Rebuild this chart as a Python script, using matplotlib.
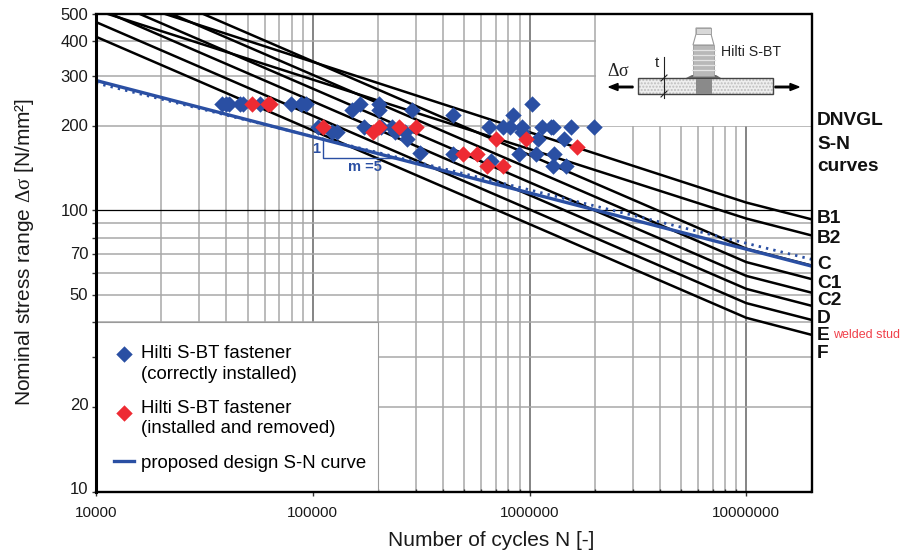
import matplotlib
matplotlib.use("Agg")
import matplotlib.pyplot as plt
from matplotlib.patches import Rectangle, FancyArrow, Polygon
from matplotlib.transforms import ScaledTranslation

plt.rcParams['font.family'] = ['Liberation Sans', 'DejaVu Sans']
plt.rcParams['mathtext.fontset'] = 'custom'
plt.rcParams['mathtext.rm'] = 'Liberation Serif'
plt.rcParams['mathtext.it'] = 'Liberation Serif:italic'

BLUE = '#2a4fa3'
RED = '#ee2b33'

curve_N = [1e4, 1e7, 2e7]
curve_B1 = [601, 106.7, 93]
curve_B2 = [516, 93.6, 81.5]
curve_C = [731, 73.1, 63.7]
curve_C1 = [654, 65.5, 57]
curve_C2 = [584, 58.5, 51]
curve_D = [527, 52.6, 45.8]
curve_E = [468, 46.8, 40.8]
curve_F = [415, 41.5, 36.1]
dnv_curves = [curve_B1, curve_B2, curve_C, curve_C1, curve_C2, curve_D, curve_E, curve_F]
curve_labels = ['B1', 'B2', 'C', 'C1', 'C2', 'D', 'E', 'F']
label_base_px = [223, 243, 269, 288, 305, 323, 340, 358]

design_N = [1e4, 2e7]
design_S = [290, 63.4]
dotted_S = [284, 67]

blue_N = [38080, 39720, 41020, 46080, 47560, 57000, 79200, 88100, 92800,
          151300, 164700, 201400, 201400, 286000,
          105400, 122300, 129000, 171800, 205800, 231200, 238700, 265400, 271000, 311200,
          446000, 1032000, 835000, 647000, 751000, 808900, 918900, 1148000, 1262000,
          1289000, 1561000, 1993000, 918900, 1100000, 1449000, 899000, 1077000,
          1303000, 442000, 661000, 1289000, 1480000]
blue_S = [239, 239, 239, 239, 239, 239, 239, 239, 239,
          228, 239, 239, 228, 228,
          198, 190, 190, 198, 198, 198, 190, 190, 180, 160,
          219, 239, 219, 198, 198, 198, 198, 198, 198,
          198, 198, 198, 190, 180, 180, 159, 159,
          159, 159, 150, 144, 144]
red_N = [52300, 62000, 63400, 111200, 189000, 201400, 249000, 298400,
         697000, 968000, 1664000, 491000, 575000, 634000, 751000]
red_S = [239, 239, 239, 198, 190, 198, 198, 198,
         180, 180, 168, 159, 159, 144, 144]

x_ticks = [1e4, 1e5, 1e6, 1e7]
x_tick_labels = ['10000', '100000', '1000000', '10000000']
y_ticks = [10, 20, 50, 70, 100, 200, 300, 400, 500]
y_label_shift_px = [4, 2.5, 1, 1, 0.5, 0.5, 0, 0, 0]
y_grid_extra = [30, 40, 60, 80, 90]

W, H = 917, 555
fig = plt.figure(figsize=(W / 100, H / 100), dpi=100)
L, R, T, B = 96, 811.5, 14, 491.5
ax = fig.add_axes([L / W, 1 - B / H, (R - L) / W, (B - T) / H])
ax.set_xscale('log')
ax.set_yscale('log')
ax.set_xlim(1e4, 2e7)
ax.set_ylim(10, 500)

# grid
for dec in (1e4, 1e5, 1e6, 1e7):
    for k in range(1, 10):
        v = dec * k
        if v >= 2e7 or v <= 1e4:
            continue
        major = k == 1
        ax.axvline(v, color='#707070' if major else '#a8a8a8', lw=1.2 if major else 1.1, zorder=1)
for v in y_ticks + y_grid_extra:
    if v in (10, 500):
        continue
    ax.axhline(v, color='black' if v == 100 else '#a8a8a8', lw=0.9 if v == 100 else 1.1, zorder=1)

# white areas (legend, picture)
ax.add_patch(Rectangle((L / W, 1 - B / H), 282 / W, 169.5 / H, transform=fig.transFigure,
                       fc='white', ec='#9a9a9a', lw=0.8, zorder=2))
ax.add_patch(Rectangle((596 / W, 1 - 125.5 / H), 216 / W, 111.5 / H, transform=fig.transFigure,
                       fc='white', ec='none', zorder=2))

for s in dnv_curves:
    ax.plot(curve_N, s, color='black', lw=1.8, zorder=3, solid_joinstyle='round')
ax.plot(design_N, dotted_S, color=BLUE, lw=2.0, ls=(0, (0.85, 1.85)), zorder=4)
l_design, = ax.plot(design_N, design_S, color=BLUE, lw=2.4, zorder=4)
p_blue = ax.scatter(blue_N, blue_S, marker='D', s=70, color=BLUE, lw=0, zorder=5)
p_red = ax.scatter(red_N, red_S, marker='D', s=70, color=RED, lw=0, zorder=6)

ax.set_xticks(x_ticks)
ax.set_xticklabels(x_tick_labels)
ax.set_yticks(y_ticks)
ax.set_yticklabels([str(v) for v in y_ticks])
ax.minorticks_on()
ax.yaxis.set_minor_formatter(plt.NullFormatter())
ax.xaxis.set_minor_formatter(plt.NullFormatter())
ax.tick_params(axis='y', which='both', length=3, width=1, color='#333333', direction='out')
ax.tick_params(axis='x', which='major', length=3, width=1, color='#333333', direction='out')
ax.tick_params(axis='x', which='minor', length=2.5, width=1, color='#333333', direction='in')
ax.tick_params(axis='x', which='major', labelsize=11, pad=7.5, labelcolor='#1a1a1a')
ax.tick_params(axis='y', which='major', labelsize=12, pad=2.5, labelcolor='#1a1a1a')
for lab, dy in zip(ax.get_yticklabels(), y_label_shift_px):
    lab.set_transform(lab.get_transform() + ScaledTranslation(0, dy / 100, fig.dpi_scale_trans))
for name, s in ax.spines.items():
    s.set_linewidth(2.2 if name == 'left' else 1.7)
    s.set_color('black')
    s.set_zorder(7)

leg = ax.legend([p_blue, p_red, l_design],
                ['Hilti S-BT fastener\n(correctly installed)',
                 'Hilti S-BT fastener\n(installed and removed)',
                 'proposed design S-N curve'],
                loc='upper left', bbox_to_anchor=((114 - L) / (R - L), 1 - (345 - T) / (B - T)),
                frameon=False, fontsize=13.4, labelspacing=0.92, handlelength=1.08,
                handletextpad=0.38, borderaxespad=0, borderpad=0, scatterpoints=1)
leg.set_zorder(8)
for t in leg.get_texts():
    t.set_linespacing(1.28)
# markers sit level with the first text line of their entry, as in the reference
for handle, up_pt in zip(leg.legend_handles[:2], [8, 5]):
    off = handle.get_offsets()
    off[:, 1] += up_pt
    handle.set_offsets(off)

# overlay in pixel coordinates for annotations
ov = fig.add_axes([0, 0, 1, 1], facecolor='none')
ov.set_xlim(0, W)
ov.set_ylim(H, 0)
ov.axis('off')

ov.text(491, 540, 'Number of cycles N [-]', fontsize=15, color='#1a1a1a', ha='center', va='center')
ov.text(25, 252, r'Nominal stress range $\mathrm{\Delta\sigma}$ [N/mm²]', fontsize=15, color='#1a1a1a',
        rotation=90, ha='center', va='center')

for lab, y in zip(curve_labels, label_base_px):
    ov.text(817, y, lab, fontsize=13.8, fontweight='bold', va='baseline', ha='left', color='#111111')
for txt, y in zip(['DNVGL', 'S-N', 'curves'], [125, 149, 171]):
    ov.text(817, y, txt, fontsize=13.8, fontweight='bold', va='baseline', ha='left', color='#111111')
ov.text(833, 338, 'welded stud', fontsize=9, color='#f0404a', va='baseline', ha='left')

# slope triangle
ov.plot([323, 323, 394], [140, 158, 158], color=BLUE, lw=1.0)
ov.text(316, 149, '1', fontsize=10.5, fontweight='bold', color=BLUE, ha='center', va='center')
ov.text(365, 167, 'm =5', fontsize=10.5, fontweight='bold', color=BLUE, ha='center', va='center')

# fastener picture
ov.add_patch(Rectangle((638, 78), 135, 16, fc='#eeeeee', ec='#bdbdbd', lw=0, hatch='.....'))
ov.add_patch(Rectangle((638, 78), 135, 16, fc='none', ec='#444444', lw=1.0))
ov.add_patch(Rectangle((696, 78.5), 16, 15, fc='#8a8a8a', ec='none'))
ov.add_patch(Polygon([(686, 78), (692, 75), (716, 75), (721, 78)], fc='#666666', ec='none'))
ov.add_patch(Rectangle((693, 45), 21, 31, fc='#b8b8b8', ec='#9a9a9a', lw=0.6))
for ythread in [50, 55, 60, 65, 70]:
    ov.plot([692, 715], [ythread, ythread], color='#e4e4e4', lw=0.9)
ov.add_patch(Polygon([(696, 28), (711, 28), (711, 34), (714, 45), (693, 45), (696, 34)],
                     fc='white', ec='#999999', lw=0.8))
ov.add_patch(Rectangle((696, 28), 15, 6, fc='#d8d8d8', ec='#999999', lw=0.6))
ov.text(721, 52, 'Hilti S-BT', fontsize=10.2, va='center', ha='left', color='#222222')
ov.text(657, 63, 't', fontsize=11, va='center', ha='center', color='#222222')
ov.plot([664, 664], [57, 98], color='#222222', lw=0.8)
ov.plot([661, 667], [81, 75], color='#222222', lw=0.8)
ov.plot([661, 667], [97, 91], color='#222222', lw=0.8)
ov.text(618, 71, r'$\mathrm{\Delta\sigma}$', fontsize=13, va='center', ha='center', color='#222222')
ov.add_patch(FancyArrow(633, 87, -24, 0, width=1.5, head_width=7, head_length=9,
                        length_includes_head=True, color='black'))
ov.add_patch(FancyArrow(775, 87, 24, 0, width=1.5, head_width=7, head_length=9,
                        length_includes_head=True, color='black'))

fig.savefig('out.png', dpi=100)
